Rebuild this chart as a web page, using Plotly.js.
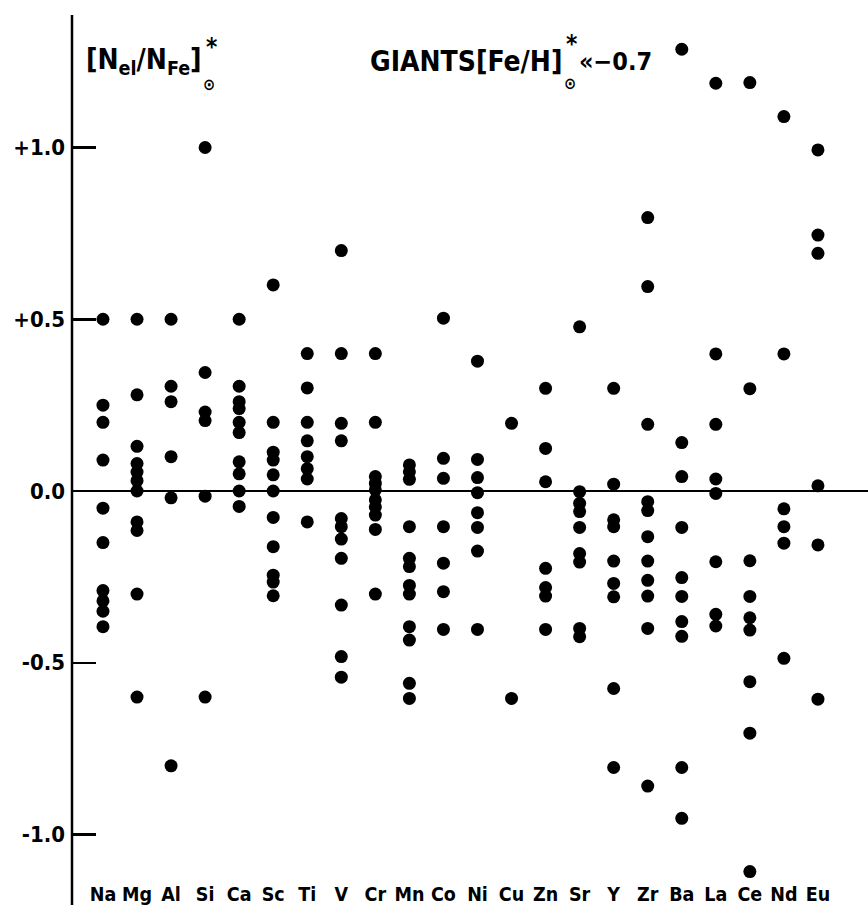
<!DOCTYPE html>
<html>
<head>
<meta charset="utf-8">
<script src="https://cdn.plot.ly/plotly-3.0.1.min.js"></script>
<style>
  html, body { margin: 0; padding: 0; background: #fff; }
  #chart { width: 868px; height: 905px; }
</style>
</head>
<body>
<div id="chart"></div>
<script>
// Elements (x categories)
const elements = ["Na","Mg","Al","Si","Ca","Sc","Ti","V","Cr","Mn","Co","Ni","Cu","Zn","Sr","Y","Zr","Ba","La","Ce","Nd","Eu"];

// [N_el/N_Fe] values read for each element
const Na = [0.5, 0.25, 0.2, 0.09, -0.05, -0.15, -0.29, -0.32, -0.35, -0.395];
const Mg = [0.5, 0.28, 0.13, 0.08, 0.055, 0.03, 0.0, -0.09, -0.115, -0.3, -0.6];
const Al = [0.5, 0.305, 0.26, 0.1, -0.02, -0.8];
const Si = [1.0, 0.345, 0.23, 0.205, -0.015, -0.6];
const Ca = [0.5, 0.305, 0.26, 0.24, 0.2, 0.17, 0.085, 0.05, 0.0, -0.045];
const Sc = [0.6, 0.2, 0.113, 0.09, 0.047, 0.0, -0.077, -0.162, -0.245, -0.265, -0.305];
const Ti = [0.4, 0.3, 0.2, 0.146, 0.1, 0.065, 0.035, -0.09];
const V  = [0.7, 0.4, 0.197, 0.146, -0.08, -0.104, -0.14, -0.196, -0.332, -0.482, -0.542];
const Cr = [0.4, 0.2, 0.042, 0.022, 0.003, -0.026, -0.046, -0.07, -0.112, -0.3];
const Mn = [0.076, 0.056, 0.034, -0.104, -0.196, -0.22, -0.275, -0.3, -0.395, -0.434, -0.56, -0.604];
const Co = [1.39, 0.503, 0.095, 0.037, -0.104, -0.21, -0.293, -0.403];
const Ni = [0.378, 0.092, 0.039, -0.005, -0.063, -0.106, -0.175, -0.403];
const Cu = [0.197, -0.604];
const Zn = [0.299, 0.124, 0.027, -0.225, -0.281, -0.306, -0.403];
const Sr = [0.478, -0.002, -0.036, -0.06, -0.106, -0.182, -0.207, -0.4, -0.424];
const Y  = [0.299, 0.02, -0.084, -0.104, -0.204, -0.269, -0.308, -0.575, -0.805];
const Zr = [0.796, 0.595, 0.194, -0.031, -0.057, -0.133, -0.204, -0.26, -0.306, -0.4, -0.859];
const Ba = [1.286, 0.141, 0.042, -0.106, -0.252, -0.307, -0.38, -0.423, -0.805, -0.953];
const La = [1.187, 0.399, 0.194, 0.035, -0.007, -0.206, -0.359, -0.393];
const Ce = [1.189, 0.298, -0.203, -0.307, -0.369, -0.405, -0.555, -0.705, -1.108];
const Nd = [1.09, 0.399, -0.052, -0.104, -0.152, -0.487];
const Eu = [0.993, 0.745, 0.692, 0.015, -0.157, -0.606];

const seriesByElement = [Na, Mg, Al, Si, Ca, Sc, Ti, V, Cr, Mn, Co, Ni, Cu, Zn, Sr, Y, Zr, Ba, La, Ce, Nd, Eu];

// Y-axis ticks
const yTickVals = [-1.0, -0.5, 0.0, 0.5, 1.0];
const yTickText = ["-1.0", "-0.5", "0.0", "+0.5", "+1.0"];

const xs = [], ys = [];
seriesByElement.forEach((arr, i) => {
  arr.forEach(v => { xs.push(elements[i]); ys.push(v); });
});

// Layout geometry (pixels)
const W = 868, H = 905;
const M = {l: 72, r: 0, t: 15, b: 27};
const PW = W - M.l - M.r, PH = H - M.t - M.b;
const px = x => (x - M.l) / PW;
const py = y => (H - M.b - y) / PH;

const FONT = "DejaVu Sans Condensed, DejaVu Sans, sans-serif";

const trace = {
  type: "scatter",
  mode: "markers",
  x: xs,
  y: ys,
  cliponaxis: false,
  marker: {color: "#000", size: 13, line: {width: 0}},
  hoverinfo: "x+y"
};

const ann = (text, x, y, size, xanchor) => ({
  text: text, xref: "paper", yref: "paper", x: px(x), y: py(y),
  xanchor: xanchor || "left", yanchor: "middle", showarrow: false,
  font: {family: FONT, size: size, color: "#000", weight: "bold"}
});

const layout = {
  width: W, height: H,
  margin: M,
  paper_bgcolor: "#fff", plot_bgcolor: "#fff",
  showlegend: false,
  xaxis: {
    type: "category",
    categoryorder: "array",
    categoryarray: elements,
    range: [-0.91, 22.47],
    showgrid: false, zeroline: false, showline: false,
    ticks: "",
    tickfont: {family: FONT, size: 19.5, color: "#000", weight: "bold"},
    ticklabelstandoff: 2
  },
  yaxis: {
    range: [(491 - (H - M.b)) / 343.5, (491 - M.t) / 343.5],
    tickvals: yTickVals, ticktext: yTickText,
    ticks: "inside", ticklen: 24, tickwidth: 2.5, tickcolor: "#000",
    showgrid: false,
    zeroline: true, zerolinecolor: "#000", zerolinewidth: 2,
    showline: false,
    tickfont: {family: FONT, size: 22, color: "#000", weight: "bold"},
    ticklabelstandoff: 6
  },
  shapes: [
    {type: "line", xref: "paper", yref: "paper", x0: 0, x1: 0, y0: py(905), y1: py(15),
     line: {color: "#000", width: 2.5}}
  ],
  annotations: [
    ann("[N<sub>el</sub>/N<sub>Fe</sub>]", 84, 62, 28),
    ann("*", 211, 47, 24, "center"),
    ann("⊙", 209, 84, 16, "center"),
    ann("GIANTS[Fe/H]", 368, 62, 28),
    ann("*", 571, 44, 24, "center"),
    ann("⊙", 570, 83, 16, "center"),
    ann("«−0.7", 577, 62, 25)
  ]
};

Plotly.newPlot("chart", [trace], layout, {displayModeBar: false, staticPlot: true});
</script>
</body>
</html>
